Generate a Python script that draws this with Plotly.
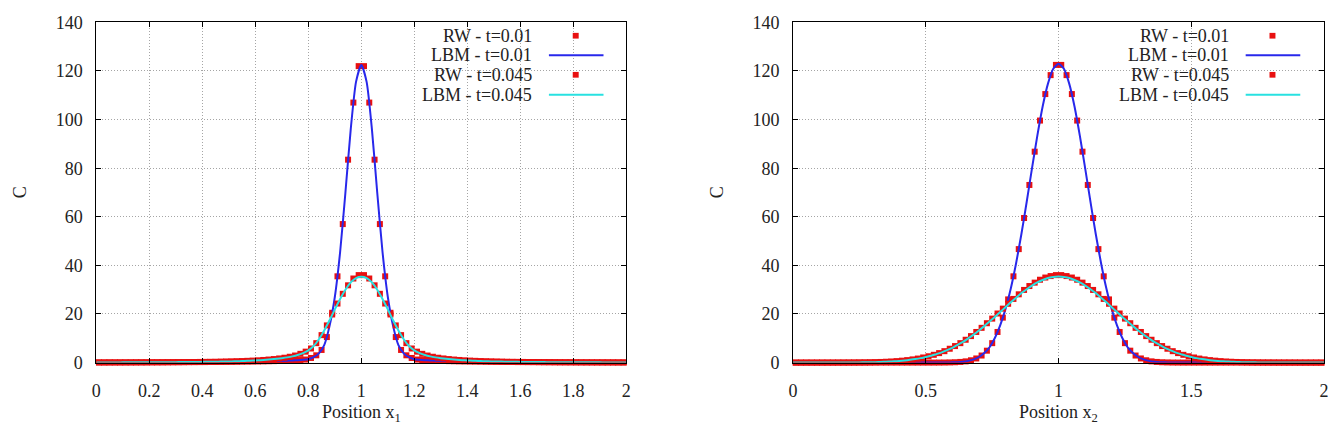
import plotly.graph_objects as go

W, H = 1341, 425

# ---------------- data ----------------
# Left panel: profile along x1
left_rw_t001 = [0.06, 0.06, 0.07, 0.07, 0.07, 0.08, 0.08, 0.09, 0.09, 0.1,
                0.11, 0.11, 0.12, 0.13, 0.14, 0.15, 0.16, 0.17, 0.18, 0.2,
                0.21, 0.23, 0.25, 0.27, 0.29, 0.31, 0.34, 0.37, 0.4, 0.43,
                0.47, 0.51, 0.56, 0.61, 0.67, 0.74, 0.82, 0.92, 1.05, 1.25,
                1.9, 3.0, 5.2, 10.5, 20.5, 35.5, 57.0, 83.5, 107.0, 122.0,
                122.0, 107.0, 83.5, 57.0, 35.5, 20.5, 10.5, 5.2, 3.0, 1.9,
                1.25, 1.05, 0.92, 0.82, 0.74, 0.67, 0.61, 0.56, 0.51, 0.47,
                0.43, 0.4, 0.37, 0.34, 0.31, 0.29, 0.27, 0.25, 0.23, 0.21,
                0.2, 0.18, 0.17, 0.16, 0.15, 0.14, 0.13, 0.12, 0.11, 0.11,
                0.1, 0.09, 0.09, 0.08, 0.08, 0.07, 0.07, 0.07, 0.06, 0.06]
left_lbm_t001 = [0.06, 0.06, 0.07, 0.07, 0.07, 0.08, 0.08, 0.09, 0.09, 0.1, 0.1,
                 0.11, 0.12, 0.12, 0.13, 0.14, 0.15, 0.16, 0.18, 0.19, 0.2,
                 0.22, 0.24, 0.26, 0.28, 0.3, 0.32, 0.35, 0.38, 0.41, 0.45,
                 0.49, 0.53, 0.58, 0.64, 0.7, 0.78, 0.87, 0.98, 1.15, 1.4,
                 2.2, 3.8, 7.2, 15.0, 27.0, 45.5, 70.0, 96.0, 115.5, 122.5,
                 115.5, 96.0, 70.0, 45.5, 27.0, 15.0, 7.2, 3.8, 2.2,
                 1.4, 1.15, 0.98, 0.87, 0.78, 0.7, 0.64, 0.58, 0.53, 0.49,
                 0.45, 0.41, 0.38, 0.35, 0.32, 0.3, 0.28, 0.26, 0.24, 0.22,
                 0.2, 0.19, 0.18, 0.16, 0.15, 0.14, 0.13, 0.12, 0.12, 0.11,
                 0.1, 0.1, 0.09, 0.09, 0.08, 0.08, 0.07, 0.07, 0.07, 0.06, 0.06]
left_rw_t0045 = [0.07, 0.07, 0.08, 0.08, 0.09, 0.09, 0.1, 0.1, 0.11, 0.12,
                 0.13, 0.14, 0.15, 0.16, 0.18, 0.19, 0.21, 0.23, 0.25, 0.27,
                 0.3, 0.33, 0.36, 0.4, 0.45, 0.5, 0.56, 0.63, 0.72, 0.82,
                 0.94, 1.08, 1.25, 1.45, 1.7, 2.0, 2.4, 2.9, 3.6, 4.5,
                 5.8, 8.0, 11.3, 15.3, 19.8, 24.3, 28.3, 31.8, 34.6, 36.0,
                 36.0, 34.6, 31.8, 28.3, 24.3, 19.8, 15.3, 11.3, 8.0, 5.8,
                 4.5, 3.6, 2.9, 2.4, 2.0, 1.7, 1.45, 1.25, 1.08, 0.94,
                 0.82, 0.72, 0.63, 0.56, 0.5, 0.45, 0.4, 0.36, 0.33, 0.3,
                 0.27, 0.25, 0.23, 0.21, 0.19, 0.18, 0.16, 0.15, 0.14, 0.13,
                 0.12, 0.11, 0.1, 0.1, 0.09, 0.09, 0.08, 0.08, 0.07, 0.07]
left_lbm_t0045 = [0.07, 0.07, 0.07, 0.08, 0.08, 0.09, 0.09, 0.1, 0.1, 0.11,
                  0.12, 0.13, 0.14, 0.15, 0.17, 0.18, 0.2, 0.22, 0.24, 0.26,
                  0.28, 0.31, 0.34, 0.38, 0.42, 0.47, 0.52, 0.59, 0.67, 0.76,
                  0.87, 1.0, 1.15, 1.33, 1.55, 1.82, 2.15, 2.55, 3.1, 3.9,
                  5.0, 6.8, 9.6, 13.2, 17.4, 21.9, 26.2, 30.0, 33.0, 34.8,
                  35.3,
                  34.8, 33.0, 30.0, 26.2, 21.9, 17.4, 13.2, 9.6, 6.8, 5.0,
                  3.9, 3.1, 2.55, 2.15, 1.82, 1.55, 1.33, 1.15, 1.0, 0.87,
                  0.76, 0.67, 0.59, 0.52, 0.47, 0.42, 0.38, 0.34, 0.31, 0.28,
                  0.26, 0.24, 0.22, 0.2, 0.18, 0.17, 0.15, 0.14, 0.13, 0.12,
                  0.11, 0.1, 0.1, 0.09, 0.09, 0.08, 0.08, 0.07, 0.07, 0.07]

# Right panel: profile along x2
right_rw_t001 = [0, 0, 0, 0, 0, 0, 0, 0, 0, 0, 0, 0, 0, 0, 0, 0, 0, 0, 0, 0,
                 0, 0, 0, 0, 0, 0, 0,
                 0.01, 0.03, 0.07, 0.14, 0.27, 0.5, 0.95, 1.7, 2.9, 4.9, 8.0,
                 12.6, 18.5, 26.0, 35.5, 46.7, 59.5, 73.1, 86.8, 99.6, 110.5,
                 118.3, 122.5,
                 122.5, 118.3, 110.5, 99.6, 86.8, 73.1, 59.5, 46.7, 35.5, 26.0,
                 18.5, 12.6, 8.0, 4.9, 2.9, 1.7, 0.95, 0.5, 0.27, 0.14, 0.07,
                 0.03, 0.01,
                 0, 0, 0, 0, 0, 0, 0, 0, 0, 0, 0, 0, 0, 0, 0, 0, 0, 0, 0, 0,
                 0, 0, 0, 0, 0, 0, 0]
right_lbm_t001 = [0, 0, 0, 0, 0, 0, 0, 0, 0, 0, 0, 0, 0, 0, 0, 0, 0, 0, 0, 0,
                  0, 0, 0, 0, 0, 0, 0,
                  0.01, 0.02, 0.04, 0.09, 0.19, 0.38, 0.7, 1.3, 2.3, 3.9, 6.3,
                  10.1, 15.3, 22.0, 30.5, 40.9, 52.9, 66.2, 80.0, 93.4, 105.4,
                  114.8, 120.9, 123.0, 120.9, 114.8, 105.4, 93.4, 80.0, 66.2,
                  52.9, 40.9, 30.5, 22.0, 15.3, 10.1, 6.3, 3.9, 2.3, 1.3, 0.7,
                  0.38, 0.19, 0.09, 0.04, 0.02, 0.01,
                  0, 0, 0, 0, 0, 0, 0, 0, 0, 0, 0, 0, 0, 0, 0, 0, 0, 0, 0, 0,
                  0, 0, 0, 0, 0, 0, 0]
right_rw_t0045 = [0, 0, 0, 0, 0,
                  0.01, 0.01, 0.01, 0.02, 0.03, 0.04, 0.05, 0.075, 0.1, 0.14,
                  0.19, 0.26, 0.35, 0.46, 0.61, 0.79, 1.02, 1.31, 1.66, 2.1,
                  2.6, 3.2, 3.9, 4.7, 5.7, 6.8, 8.0, 9.4, 10.9, 12.6, 14.3,
                  16.2, 18.1, 20.2, 22.2, 24.2, 26.2, 28.1, 29.9, 31.5, 32.9,
                  34.1, 35.0, 35.6, 36.0,
                  36.0, 35.6, 35.0, 34.1, 32.9, 31.5, 29.9, 28.1, 26.2, 24.2,
                  22.2, 20.2, 18.1, 16.2, 14.3, 12.6, 10.9, 9.4, 8.0, 6.8, 5.7,
                  4.7, 3.9, 3.2, 2.6, 2.1, 1.66, 1.31, 1.02, 0.79, 0.61, 0.46,
                  0.35, 0.26, 0.19, 0.14, 0.1, 0.075, 0.05, 0.04, 0.03, 0.02,
                  0.01, 0.01, 0.01,
                  0, 0, 0, 0, 0]
right_lbm_t0045 = [0, 0, 0, 0, 0, 0, 0,
                   0.01, 0.01, 0.02, 0.03, 0.04, 0.06, 0.09, 0.12, 0.16, 0.22,
                   0.3, 0.4, 0.52, 0.68, 0.88, 1.14, 1.45, 1.83, 2.3, 2.8, 3.5,
                   4.2, 5.1, 6.1, 7.3, 8.5, 10.0, 11.5, 13.2, 15.0, 16.9, 18.8,
                   20.8, 22.8, 24.8, 26.7, 28.6, 30.2, 31.7, 33.0, 34.0, 34.8,
                   35.2, 35.4, 35.2, 34.8, 34.0, 33.0, 31.7, 30.2, 28.6, 26.7,
                   24.8, 22.8, 20.8, 18.8, 16.9, 15.0, 13.2, 11.5, 10.0, 8.5,
                   7.3, 6.1, 5.1, 4.2, 3.5, 2.8, 2.3, 1.83, 1.45, 1.14, 0.88,
                   0.68, 0.52, 0.4, 0.3, 0.22, 0.16, 0.12, 0.09, 0.06, 0.04,
                   0.03, 0.02, 0.01, 0.01,
                   0, 0, 0, 0, 0, 0, 0]

# sampling positions: RW bins centred at odd hundredths, LBM nodes at even ones
def rw_positions(vals):
    return [round(0.01 + 0.02 * i, 2) for i in range(len(vals))]

def lbm_positions(vals):
    return [round(0.02 * i, 2) for i in range(len(vals))]

legend_labels = ["RW - t=0.01", "LBM - t=0.01", "RW - t=0.045", "LBM - t=0.045"]
x_titles = ["Position x<sub>1</sub>", "Position x<sub>2</sub>"]
y_title = "C"

# ---------------- styling ----------------
FONT = "Liberation Serif"
FS = 18
RED = "rgb(232,16,16)"
BLUE = "rgb(40,40,235)"
CYAN = "rgb(40,225,225)"
TXT = "#222222"

def px(x):
    return x / W

def py(y):
    return 1 - y / H

panels = [
    dict(x0=92, x1=626, xaxis="x", yaxis="y", dtick=0.2,
         data=(left_rw_t001, left_lbm_t001, left_rw_t0045, left_lbm_t0045)),
    dict(x0=794, x1=1329, xaxis="x2", yaxis="y2", dtick=0.5,
         data=(right_rw_t001, right_lbm_t001, right_rw_t0045, right_lbm_t0045)),
]
Y_TOP, Y_BOT = 13, 370

fig = go.Figure()
for p in panels:
    rw1, lbm1, rw2, lbm2 = p["data"]
    fig.add_trace(go.Scatter(x=rw_positions(rw1), y=rw1, mode="markers",
                             marker=dict(symbol="square", size=6, color=RED),
                             cliponaxis=False, xaxis=p["xaxis"], yaxis=p["yaxis"],
                             showlegend=False))
    fig.add_trace(go.Scatter(x=lbm_positions(lbm1), y=lbm1, mode="lines",
                             line=dict(color=BLUE, width=2, shape="spline", smoothing=0.6),
                             xaxis=p["xaxis"], yaxis=p["yaxis"], showlegend=False))
    fig.add_trace(go.Scatter(x=rw_positions(rw2), y=rw2, mode="markers",
                             marker=dict(symbol="square", size=6, color=RED),
                             cliponaxis=False, xaxis=p["xaxis"], yaxis=p["yaxis"],
                             showlegend=False))
    fig.add_trace(go.Scatter(x=lbm_positions(lbm2), y=lbm2, mode="lines",
                             line=dict(color=CYAN, width=2, shape="spline", smoothing=0.6),
                             xaxis=p["xaxis"], yaxis=p["yaxis"], showlegend=False))

axis_common = dict(showline=True, linecolor="black", linewidth=1, mirror="ticks",
                   ticks="inside", ticklen=5, tickcolor="black",
                   showgrid=True, gridcolor="rgb(165,165,165)", griddash="1px,2px",
                   gridwidth=1, zeroline=False,
                   tickfont=dict(family=FONT, size=FS, color=TXT))

layout = dict(width=W, height=H, margin=dict(l=0, r=0, t=0, b=0),
              autosize=False, paper_bgcolor="white", plot_bgcolor="white",
              showlegend=False, font=dict(family=FONT, size=FS, color=TXT))
for i, p in enumerate(panels):
    sfx = "" if i == 0 else "2"
    layout["xaxis" + sfx] = dict(axis_common, domain=[px(p["x0"]), px(p["x1"])],
                                 range=[0, 2], tick0=0, dtick=p["dtick"],
                                 anchor="y" + sfx, ticklabelstandoff=12)
    layout["yaxis" + sfx] = dict(axis_common, domain=[py(Y_BOT), py(Y_TOP)],
                                 range=[0, 140], tick0=0, dtick=20,
                                 anchor="x" + sfx, ticklabelstandoff=9)
fig.update_layout(**layout)

annotations = []
shapes = []
for i, p in enumerate(panels):
    cx = (p["x0"] + p["x1"]) / 2
    annotations.append(dict(x=px(cx), y=py(409), xref="paper", yref="paper",
                            text=x_titles[i], showarrow=False,
                            xanchor="center", yanchor="top",
                            font=dict(family=FONT, size=FS, color=TXT)))
    annotations.append(dict(x=px(p["x0"] - 76), y=py((Y_TOP + Y_BOT) / 2),
                            xref="paper", yref="paper", text=y_title,
                            textangle=-90, showarrow=False,
                            xanchor="center", yanchor="middle",
                            font=dict(family=FONT, size=FS, color=TXT)))
    # key (gnuplot style: text right-aligned, sample to the right)
    off = p["x0"] - 92
    rows = [27, 47.5, 68, 89]
    for j, lab in enumerate(legend_labels):
        annotations.append(dict(x=px(533 + off), y=py(rows[j]), xref="paper",
                                yref="paper", text=lab, showarrow=False,
                                xanchor="right", yanchor="middle",
                                font=dict(family=FONT, size=FS, color=TXT)))
        if j in (0, 2):
            shapes.append(dict(type="rect", xref="paper", yref="paper",
                               x0=px(572 + off), x1=px(578 + off),
                               y0=py(rows[j] + 3), y1=py(rows[j] - 3),
                               fillcolor=RED, line=dict(width=0)))
        else:
            shapes.append(dict(type="line", xref="paper", yref="paper",
                               x0=px(548 + off), x1=px(603 + off),
                               y0=py(rows[j]), y1=py(rows[j]),
                               line=dict(color=BLUE if j == 1 else CYAN, width=2)))
fig.update_layout(annotations=annotations, shapes=shapes)

fig.write_html("out.html")
